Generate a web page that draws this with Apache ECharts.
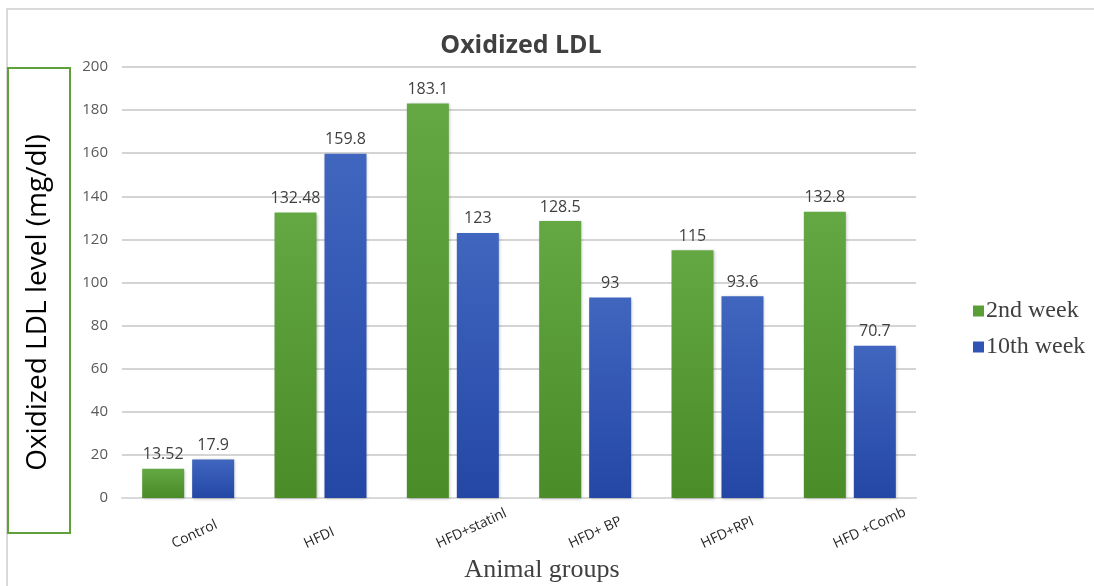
<!DOCTYPE html>
<html>
<head>
<meta charset="UTF-8">
<title>Oxidized LDL</title>
<style>
  html, body { margin: 0; padding: 0; background: #fff; }
  #chart { width: 1094px; height: 586px; }
</style>
</head>
<body>
<div id="chart"></div>
<script src="https://cdn.jsdelivr.net/npm/echarts@6/dist/echarts.min.js"></script>
<script>
var groups = ['Control', 'HFDI', 'HFD+statinl', 'HFD+ BP', 'HFD+RPI', 'HFD +Comb'];
var week2 = [13.52, 132.48, 183.1, 128.5, 115, 132.8];
var week10 = [17.9, 159.8, 123, 93, 93.6, 70.7];
var yTicks = [0, 20, 40, 60, 80, 100, 120, 140, 160, 180, 200];

var myChart = echarts.init(document.getElementById('chart'));

function grad(top, bottom) {
  return new echarts.graphic.LinearGradient(0, 0, 0, 1, [
    { offset: 0, color: top },
    { offset: 1, color: bottom }
  ]);
}

var labelStyle = {
  show: true,
  position: 'top',
  distance: 6,
  color: '#404040',
  fontSize: 16,
  fontFamily: 'Open Sans'
};

var option = {
  animation: false,
  backgroundColor: '#fff',
  title: {
    text: 'Oxidized LDL',
    left: 516,
    top: 28,
    textAlign: 'center',
    textStyle: {
      color: '#404040',
      fontSize: 25,
      fontWeight: 'bold',
      fontFamily: 'Open Sans'
    }
  },
  legend: {
    orient: 'vertical',
    left: 968,
    top: 294,
    itemWidth: 11,
    itemHeight: 11,
    itemGap: 12,
    icon: 'rect',
    textStyle: {
      color: '#404040',
      fontSize: 24,
      fontFamily: 'Liberation Serif',
      padding: [0, 0, 0, -3]
    },
    data: [
      { name: '2nd week', itemStyle: { color: '#5a9e37' } },
      { name: '10th week', itemStyle: { color: '#2f54b5' } }
    ]
  },
  graphic: [
    {
      type: 'polyline',
      shape: { points: [[7, 586], [7, 9], [1094, 9]] },
      style: { stroke: '#d9d9d9', lineWidth: 2, fill: null },
      silent: true
    },
    {
      type: 'rect',
      shape: { x: 8, y: 68, width: 62, height: 465 },
      style: { stroke: '#5fa03a', lineWidth: 2, fill: null },
      silent: true
    }
  ],
  grid: {
    left: 122,
    right: 178,
    top: 67,
    bottom: 88,
    containLabel: false,
    outerBoundsMode: 'none'
  },
  xAxis: {
    type: 'category',
    data: groups,
    name: 'Animal groups',
    nameLocation: 'middle',
    nameGap: 56,
    nameTextStyle: {
      color: '#404040',
      fontSize: 26,
      fontFamily: 'Liberation Serif',
      padding: [0, 0, 0, 46]
    },
    axisTick: { show: false },
    axisLine: { lineStyle: { color: '#d9d9d9', width: 2 } },
    axisLabel: {
      rotate: 25,
      margin: 47,
      align: 'left',
      verticalAlign: 'bottom',
      padding: [0, 0, 0, -14],
      color: '#262626',
      fontSize: 14,
      fontFamily: 'Open Sans',
      interval: 0
    }
  },
  yAxis: {
    type: 'value',
    min: yTicks[0],
    max: yTicks[yTicks.length - 1],
    interval: 20,
    name: 'Oxidized LDL level (mg/dl)',
    nameLocation: 'middle',
    nameGap: 70,
    nameTextStyle: {
      color: '#000',
      fontSize: 28,
      fontFamily: 'Open Sans',
      padding: [0, 40, 0, 0]
    },
    axisLine: { show: false },
    axisTick: { show: false },
    axisLabel: {
      color: '#595959',
      fontSize: 15,
      margin: 14,
      fontFamily: 'Open Sans'
    },
    splitLine: { lineStyle: { color: '#d4d4d4', width: 2 } }
  },
  series: [
    {
      name: '2nd week',
      type: 'bar',
      data: week2,
      barWidth: 42,
      barGap: '19%',
      label: labelStyle,
      itemStyle: {
        color: grad('#63a843', '#4a8c27'),
        shadowColor: 'rgba(0,0,0,0.25)',
        shadowBlur: 3,
        shadowOffsetX: 1,
        shadowOffsetY: 1
      }
    },
    {
      name: '10th week',
      type: 'bar',
      data: week10,
      barWidth: 42,
      label: labelStyle,
      itemStyle: {
        color: grad('#4066bf', '#2447a6'),
        shadowColor: 'rgba(0,0,0,0.25)',
        shadowBlur: 3,
        shadowOffsetX: 1,
        shadowOffsetY: 1
      }
    }
  ]
};

myChart.setOption(option);
</script>
</body>
</html>
